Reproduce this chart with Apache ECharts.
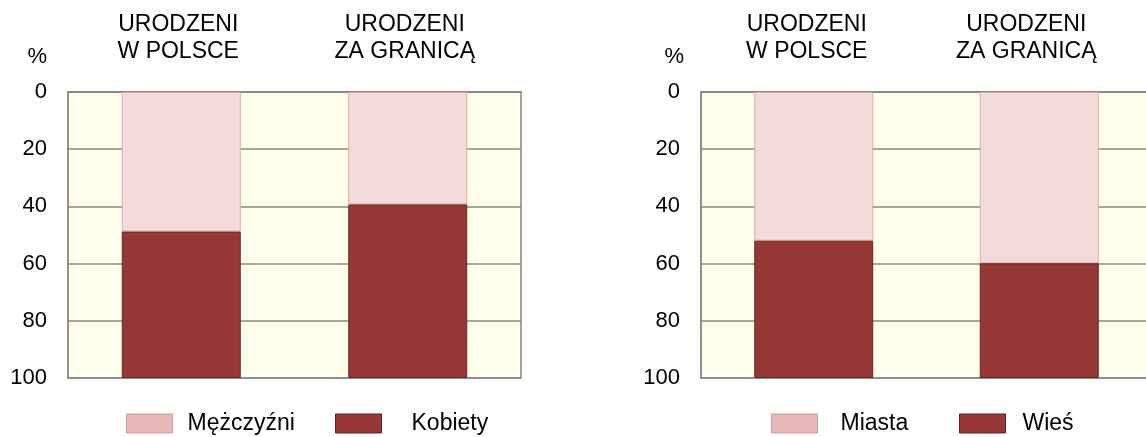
<!DOCTYPE html>
<html>
<head>
<meta charset="utf-8">
<script src="https://cdn.jsdelivr.net/npm/echarts@6/dist/echarts.min.js"></script>
<style>
  html, body { margin: 0; padding: 0; background: #fff; overflow: hidden; }
  /* prawy wykres wychodzi poza kadr, stąd szerszy kontener */
  #chart { width: 1160px; height: 437px; }
</style>
</head>
<body>
<div id="chart"></div>
<script>
  // dane (%)
  var categories = ['URODZENI\nW POLSCE', 'URODZENI\nZA GRANICĄ']
  var yTicks = [0, 20, 40, 60, 80, 100]

  var plecNames = ['Mężczyźni', 'Kobiety']
  var mezczyzni = [48.8, 39.3]
  var kobiety = [51.2, 60.7]

  var miejsceNames = ['Miasta', 'Wieś']
  var miasta = [52.0, 59.9]
  var wies = [48.0, 40.1]

  var FONT = '"Liberation Sans", Arial, sans-serif'
  var FS = 22
  var FS_TXT = 23
  var LIGHT = '#F2DCDB'
  var DARK = '#953735'

  var chart = echarts.init(document.getElementById('chart'))

  // shifts: przesunięcie podpisów w lewo (px)
  function xAxisFor(idx, shifts) {
    return {
      type: 'category',
      gridIndex: idx,
      position: 'top',
      data: categories.map(function (c, i) {
        return { value: c, textStyle: { padding: [0, shifts[i] * 2, 0, 0] } }
      }),
      axisTick: { show: false },
      axisLine: { lineStyle: { color: '#888', width: 1.5 } },
      axisLabel: {
        color: '#000',
        fontFamily: FONT,
        fontSize: FS_TXT,
        lineHeight: 27,
        margin: 27
      }
    }
  }

  function yAxisFor(idx, namePad) {
    return {
      type: 'value',
      gridIndex: idx,
      inverse: true,
      min: yTicks[0],
      max: yTicks[yTicks.length - 1],
      interval: 20,
      name: '%',
      nameLocation: 'start',
      nameGap: 24,
      nameTextStyle: {
        color: '#000',
        fontFamily: FONT,
        fontSize: FS,
        align: 'right',
        padding: [0, namePad, 0, 0]
      },
      axisTick: { show: false },
      axisLine: { show: true, lineStyle: { color: '#888', width: 1.5 } },
      splitLine: { lineStyle: { color: '#888', width: 1.5 } },
      axisLabel: {
        color: '#000',
        fontFamily: FONT,
        fontSize: FS,
        margin: 21
      }
    }
  }

  function bar(name, data, idx, color, border) {
    return {
      name: name,
      type: 'bar',
      stack: 's' + idx,
      xAxisIndex: idx,
      yAxisIndex: idx,
      barWidth: 119,
      data: data,
      itemStyle: { color: color, borderColor: border, borderWidth: 1 },
      animation: false
    }
  }

  function legendFor(name, left, swatch, swatchBorder, textPad) {
    return {
      left: left,
      top: 412,
      padding: 0,
      itemWidth: 46,
      itemHeight: 19,
      icon: 'rect',
      selectedMode: false,
      data: [{ name: name, itemStyle: { color: swatch, borderColor: swatchBorder, borderWidth: 1 } }],
      textStyle: {
        color: '#000',
        fontFamily: FONT,
        fontSize: FS_TXT,
        padding: [0, 0, 0, textPad]
      }
    }
  }

  chart.setOption({
    backgroundColor: '#fff',
    grid: [
      { left: 68, top: 92, width: 453, height: 286, show: true, backgroundColor: '#FFFFEB', borderColor: '#888', borderWidth: 1.5 },
      { left: 701, top: 92, width: 451, height: 286, show: true, backgroundColor: '#FFFFEB', borderColor: '#888', borderWidth: 1.5 }
    ],
    xAxis: [xAxisFor(0, [3, 3]), xAxisFor(1, [7, 13])],
    yAxis: [yAxisFor(0, 21), yAxisFor(1, 17)],
    legend: [
      legendFor(plecNames[0], 126, '#E6B9B8', '#D99694', 10),
      legendFor(plecNames[1], 335, DARK, '#632523', 25),
      legendFor(miejsceNames[0], 771, '#E6B9B8', '#D99694', 18),
      legendFor(miejsceNames[1], 959, DARK, '#632523', 12)
    ],
    series: [
      bar(plecNames[0], mezczyzni, 0, LIGHT, '#E6A5A4'),
      bar(plecNames[1], kobiety, 0, DARK, '#6B2625'),
      bar(miejsceNames[0], miasta, 1, LIGHT, '#E6A5A4'),
      bar(miejsceNames[1], wies, 1, DARK, '#6B2625')
    ]
  })
</script>
</body>
</html>
